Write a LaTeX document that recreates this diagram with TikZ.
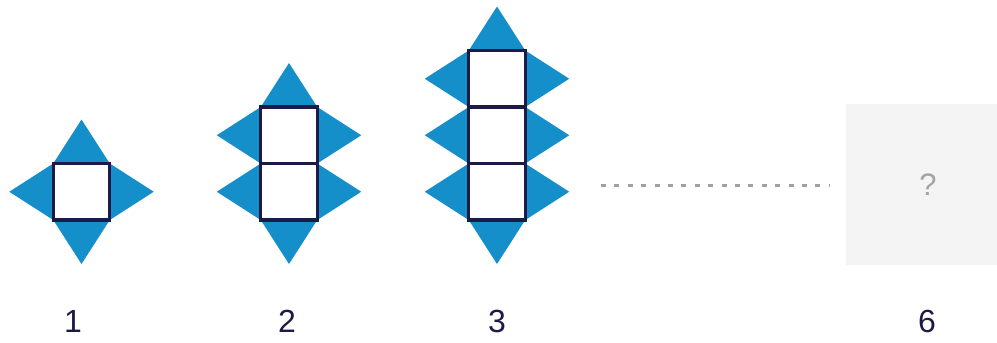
\documentclass[tikz,border=0pt]{standalone}
\usepackage{fontspec}
\setmainfont{Liberation Sans}
\definecolor{triblue}{HTML}{158FCA}
\definecolor{navy}{HTML}{1E1A48}
\definecolor{boxgray}{HTML}{F4F4F4}
\definecolor{qgray}{HTML}{A3A3A3}
\definecolor{dotgray}{HTML}{A0A0A0}
\tikzset{
  tri/.style={fill=triblue, draw=none},
  cell/.style={fill=white, draw=navy, line width=3.4pt, line join=miter},
  numlabel/.style={text=navy, font=\fontsize{32}{32}\selectfont, inner sep=0pt, anchor=center},
  dotline/.style={draw=dotgray, line width=3pt, dash pattern=on 5pt off 8.4pt},
  qbox/.style={fill=boxgray, draw=none},
  qmark/.style={text=qgray, font=\fontsize{31}{31}\selectfont, inner sep=0pt}
}
\begin{document}
\begin{tikzpicture}[x=1pt,y=-1pt]
\useasboundingbox (0,0) rectangle (997,343);
% parameters
\def\s{56.5}
\def\h{44}
\def\ybot{220}
% figures: center x, number of cells
\foreach \cx/\n in {81.5/1, 289/2, 497/3}{
  \pgfmathsetmacro{\ytop}{\ybot-\n*\s}
  \pgfmathsetmacro{\xl}{\cx-\s/2}
  \pgfmathsetmacro{\xr}{\cx+\s/2}
  % top and bottom triangles
  \fill[tri] (\xl,\ytop) -- (\cx,\ytop-\h) -- (\xr,\ytop) -- cycle;
  \fill[tri] (\xl,\ybot) -- (\cx,\ybot+\h) -- (\xr,\ybot) -- cycle;
  \foreach \k in {1,...,\n}{
    \pgfmathsetmacro{\ya}{\ybot-\k*\s}
    \pgfmathsetmacro{\yb}{\ybot-(\k-1)*\s}
    \pgfmathsetmacro{\ym}{(\ya+\yb)/2}
    \fill[tri] (\xl,\ya) -- (\xl-\h,\ym) -- (\xl,\yb) -- cycle;
    \fill[tri] (\xr,\ya) -- (\xr+\h,\ym) -- (\xr,\yb) -- cycle;
  }
  \foreach \k in {1,...,\n}{
    \pgfmathsetmacro{\ya}{\ybot-\k*\s}
    \pgfmathsetmacro{\yb}{\ybot-(\k-1)*\s}
    \draw[cell] (\xl,\ya) rectangle (\xr,\yb);
  }
}
% dotted continuation
\coordinate (dotA) at (601,185);
\coordinate (dotB) at (830,185);
\draw[dotline] (dotA) -- (dotB);
% unknown figure box
\fill[qbox] (846,104) rectangle (997,265);
\node[qmark] (q) at (928,185) {?};
% labels
\node[numlabel] (l1) at (73,321) {1};
\node[numlabel] (l2) at (287,321) {2};
\node[numlabel] (l3) at (497,321) {3};
\node[numlabel] (l6) at (927,321) {6};
\end{tikzpicture}
\end{document}
